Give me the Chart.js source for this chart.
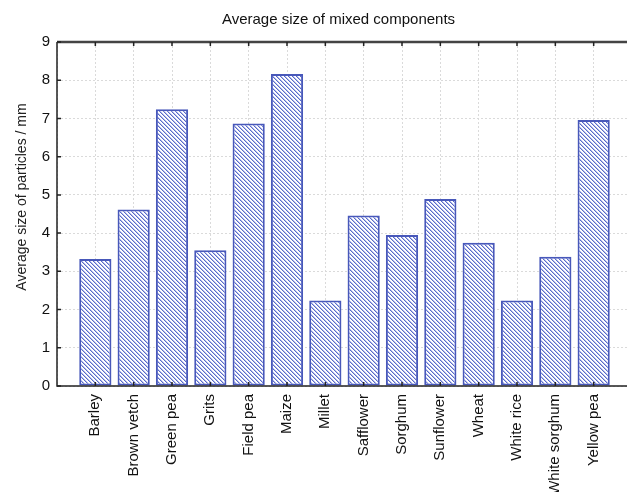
<!DOCTYPE html>
<html>
<head>
<meta charset="utf-8">
<script src="https://cdn.jsdelivr.net/npm/chart.js@4.4.1/dist/chart.umd.min.js"></script>
<style>
  html, body { margin: 0; padding: 0; background: #fff; overflow: hidden; }
</style>
</head>
<body>
<canvas id="myChart" width="658" height="492"></canvas>
<script>
const myChart = document.getElementById("myChart");

const titulo = "Average size of mixed components";
const tituloY = "Average size of particles / mm";

// componentes (con huecos vacios en los extremos del eje)
const granos = ["Barley", "Brown vetch", "Green pea", "Grits", "Field pea", "Maize", "Millet",
  "Safflower", "Sorghum", "Sunflower", "Wheat", "White rice", "White sorghum", "Yellow pea"];
const tamanos = [3.32, 4.62, 7.24, 3.55, 6.87, 8.16, 2.24, 4.46, 3.95, 4.89, 3.75, 2.24, 3.38, 6.96];
const ticksY = [0, 1, 2, 3, 4, 5, 6, 7, 8, 9];

const etiquetas = ["", ...granos, ""];
const valores = [null, ...tamanos, null];

const familia = "'Liberation Sans', Arial, sans-serif";

// relleno rayado de las barras
const rayado = () => {
  const c = document.createElement("canvas");
  c.width = 8;
  c.height = 8;
  const g = c.getContext("2d");
  g.fillStyle = "#ffffff";
  g.fillRect(0, 0, 8, 8);
  for (let y = 0; y < 8; y++) {
    for (let x = 0; x < 8; x++) {
      const k = (x - y + 8) % 4;
      if (k === 0) { g.fillStyle = "#5a6bc9"; g.fillRect(x, y, 1, 1); }
      if (k === 1) { g.fillStyle = "#b4bdeb"; g.fillRect(x, y, 1, 1); }
    }
  }
  return g.createPattern(c, "repeat");
};

// marco, marcas hacia dentro y titulos
const marco = {
  id: "marco",
  afterDatasetsDraw(chart) {
    const { ctx, chartArea: a, scales } = chart;
    const x = scales.x;
    const y = scales.y;
    ctx.save();
    ctx.strokeStyle = "#222";
    ctx.lineWidth = 1.5;
    ctx.beginPath();
    ctx.moveTo(a.left, a.top);
    ctx.lineTo(a.left, a.bottom);
    ctx.lineTo(a.right, a.bottom);
    ctx.lineTo(a.right, a.top);
    ctx.stroke();
    ctx.strokeStyle = "#444";
    ctx.lineWidth = 2.5;
    ctx.beginPath();
    ctx.moveTo(a.left, a.top);
    ctx.lineTo(a.right, a.top);
    ctx.stroke();

    ctx.strokeStyle = "#222";
    ctx.lineWidth = 1.5;
    ctx.beginPath();
    x.ticks.forEach((t, i) => {
      if (i === 0) return;
      const px = x.getPixelForTick(i);
      ctx.moveTo(px, a.top);
      ctx.lineTo(px, a.top + 4);
      ctx.moveTo(px, a.bottom);
      ctx.lineTo(px, a.bottom - 4);
    });
    y.ticks.forEach((t, i) => {
      const py = y.getPixelForTick(i);
      ctx.moveTo(a.left, py);
      ctx.lineTo(a.left + 4, py);
    });
    ctx.stroke();

    ctx.fillStyle = "#111";
    ctx.textAlign = "center";
    ctx.textBaseline = "middle";
    ctx.font = "15px " + familia;
    ctx.fillText(titulo, (a.left + a.right) / 2 - 6, 20);

    ctx.fillStyle = "#222";
    ctx.font = "14px " + familia;
    ctx.translate(22, 197);
    ctx.rotate(-Math.PI / 2);
    ctx.fillText(tituloY, 0, 0);
    ctx.restore();
  }
};

const fuente = { family: familia, size: 15 };

new Chart(myChart, {
  type: "bar",
  data: {
    labels: etiquetas,
    datasets: [
      {
        data: valores,
        backgroundColor: rayado(),
        borderColor: "#4858ba",
        borderWidth: 2,
        borderSkipped: false,
        barPercentage: 0.84,
        categoryPercentage: 1,
      },
    ],
  },
  options: {
    responsive: false,
    animation: false,
    layout: { padding: { top: 42, left: 0, right: 0, bottom: 0 } },
    plugins: {
      legend: { display: false },
      title: { display: false },
      tooltip: { enabled: false },
    },
    scales: {
      x: {
        offset: false,
        grid: { offset: false, color: "#dadada", drawTicks: false },
        border: { display: false, dash: [2, 2] },
        ticks: {
          autoSkip: false,
          maxRotation: 90,
          minRotation: 90,
          padding: 8,
          color: "#111",
          font: fuente,
        },
        afterFit: (s) => { s.height = 106; },
      },
      y: {
        min: 0,
        max: 9,
        afterBuildTicks: (s) => { s.ticks = ticksY.map((v) => ({ value: v })); },
        grid: { color: "#dadada", drawTicks: false },
        border: { display: false, dash: [2, 2] },
        ticks: { padding: 7, color: "#111", font: fuente },
        afterFit: (s) => { s.width = 57; },
      },
    },
  },
  plugins: [marco],
});
</script>
</body>
</html>
